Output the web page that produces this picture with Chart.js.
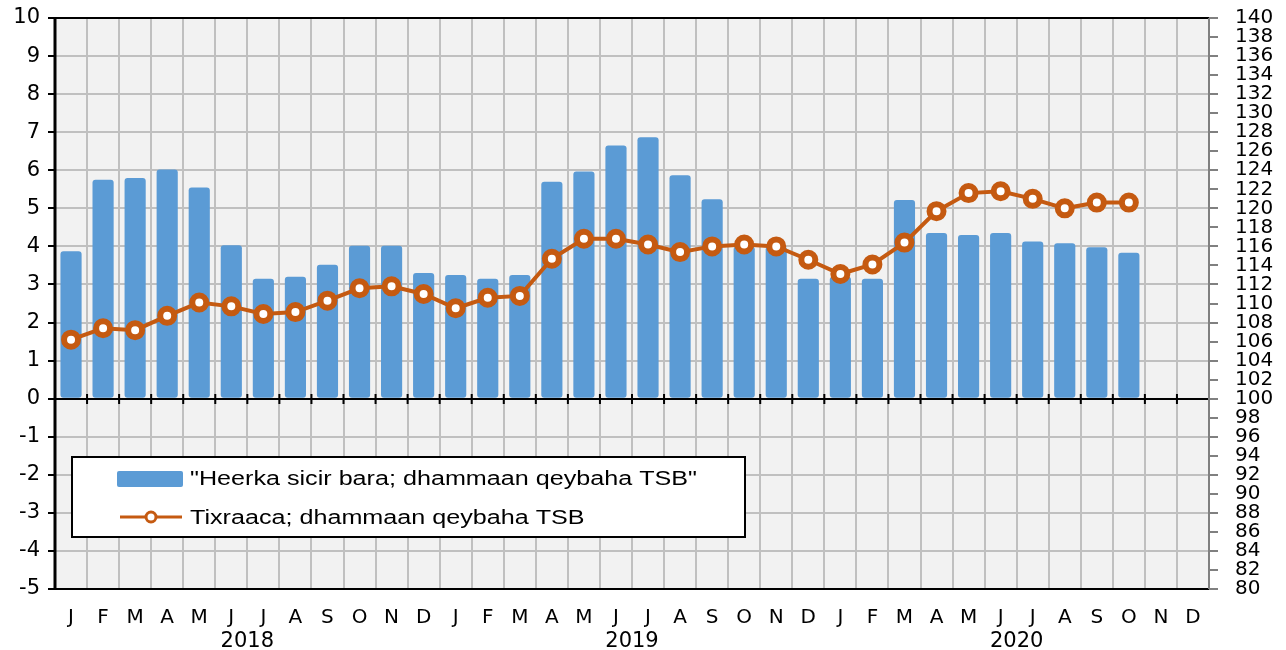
<!DOCTYPE html>
<html>
<head>
<meta charset="utf-8">
<script src="https://cdn.jsdelivr.net/npm/chart.js@4"></script>
<style>
  html, body { margin: 0; padding: 0; background: #fff; }
  #wrap { width: 1286px; height: 650px; position: relative; }
</style>
</head>
<body>
<div id="wrap"><canvas id="chart"></canvas></div>
<script>
// month letters, 2018-01 .. 2020-12
const months = ["J","F","M","A","M","J","J","A","S","O","N","D",
                "J","F","M","A","M","J","J","A","S","O","N","D",
                "J","F","M","A","M","J","J","A","S","O","N","D"];
const years = ["2018", "2019", "2020"];

// bars, left axis (%)
const priceRise = [3.87, 5.75, 5.8, 6.02, 5.55, 4.03, 3.15, 3.2, 3.52, 4.02, 4.02, 3.3,
                   3.25, 3.15, 3.25, 5.7, 5.97, 6.65, 6.87, 5.87, 5.24, 4.0, 4.0, 3.15,
                   3.2, 3.15, 5.22, 4.35, 4.3, 4.35, 4.13, 4.08, 3.98, 3.83, null, null];

// line, right axis (index)
const trackIndex = [106.2, 107.4, 107.2, 108.7, 110.1, 109.7, 108.9, 109.1, 110.3, 111.6, 111.8, 111.0,
                    109.5, 110.6, 110.8, 114.7, 116.8, 116.8, 116.2, 115.4, 116.0, 116.2, 116.0, 114.6,
                    113.1, 114.1, 116.4, 119.7, 121.6, 121.8, 121.0, 120.0, 120.6, 120.6, null, null];

const barLabel = "\"Heerka sicir bara; dhammaan qeybaha TSB\"";
const lineLabel = "Tixraaca; dhammaan qeybaha TSB";

const blue = "#5b9bd5";
const orange = "#c55a11";
const gridGray = "#c0c0c0";
const font = "'DejaVu Sans', sans-serif";

// background, borders, zero line, year labels and the boxed legend
const decor = {
  id: "decor",
  beforeDraw(chart) {
    const { ctx, chartArea: a } = chart;
    ctx.save();
    ctx.fillStyle = "#f2f2f2";
    ctx.fillRect(a.left, a.top, a.right - a.left, a.bottom - a.top);
    ctx.restore();
  },
  afterDatasetsDraw(chart) {
    const { ctx, chartArea: a, scales } = chart;
    const x = scales.x, y = scales.y;
    ctx.save();

    // zero line with tick marks at category boundaries
    const y0 = Math.round(y.getPixelForValue(0));
    ctx.strokeStyle = "#000";
    ctx.lineWidth = 2;
    ctx.beginPath();
    ctx.moveTo(a.left, y0);
    ctx.lineTo(a.right, y0);
    for (let i = 1; i <= months.length; i++) {
      const bx = i < months.length
        ? (x.getPixelForValue(i - 1) + x.getPixelForValue(i)) / 2
        : a.right;
      ctx.moveTo(bx, y0 - 5);
      ctx.lineTo(bx, y0 + 5);
    }
    ctx.stroke();

    // frame
    ctx.beginPath();
    ctx.lineWidth = 2;
    ctx.moveTo(a.left, a.top);
    ctx.lineTo(a.right, a.top);
    ctx.moveTo(a.left, a.bottom);
    ctx.lineTo(a.right, a.bottom);
    ctx.stroke();
    ctx.beginPath();
    ctx.lineWidth = 3;
    ctx.moveTo(a.left, a.top - 1);
    ctx.lineTo(a.left, a.bottom + 1);
    ctx.stroke();
    ctx.beginPath();
    ctx.strokeStyle = "#808080";
    ctx.lineWidth = 2;
    ctx.moveTo(a.right, a.top);
    ctx.lineTo(a.right, a.bottom);
    ctx.stroke();

    // year labels, centred on the Jun/Jul boundary
    ctx.fillStyle = "#000";
    ctx.font = "21px " + font;
    ctx.textAlign = "center";
    ctx.textBaseline = "alphabetic";
    years.forEach((yr, k) => {
      const i = k * 12 + 5;
      const cx = (x.getPixelForValue(i) + x.getPixelForValue(i + 1)) / 2;
      ctx.fillText(yr, cx, 647);
    });

    // legend box
    const bars = chart.data.datasets.find((d) => d.type === "bar");
    const line = chart.data.datasets.find((d) => d.type === "line");
    ctx.fillStyle = "#fff";
    ctx.fillRect(72, 457, 673, 80);
    ctx.strokeStyle = "#000";
    ctx.lineWidth = 2;
    ctx.strokeRect(72, 457, 673, 80);

    ctx.fillStyle = blue;
    ctx.beginPath();
    ctx.roundRect(117, 471, 66, 16, 2);
    ctx.fill();

    ctx.strokeStyle = orange;
    ctx.lineWidth = 3;
    ctx.beginPath();
    ctx.moveTo(120, 517);
    ctx.lineTo(182, 517);
    ctx.stroke();
    ctx.beginPath();
    ctx.fillStyle = "#fff";
    ctx.lineWidth = 3;
    ctx.arc(151, 517, 5, 0, Math.PI * 2);
    ctx.fill();
    ctx.stroke();

    // legend text in the source's wide Arial look
    ctx.fillStyle = "#000";
    ctx.font = "20px 'Liberation Sans', Arial, sans-serif";
    ctx.textAlign = "left";
    ctx.textBaseline = "middle";
    const sx = 507 / ctx.measureText(bars.label).width;
    ctx.translate(190, 0);
    ctx.scale(sx, 1);
    ctx.fillText(bars.label, 0, 479);
    ctx.fillText(line.label, 0, 518);

    ctx.restore();
  }
};

// keep the plot area fixed: no extra room for half-height end labels
function fixWidth(w) {
  return (s) => {
    s.width = w;
    s.paddingTop = 0;
    s.paddingBottom = 0;
  };
}

new Chart(document.getElementById("chart"), {
  data: {
    labels: months,
    datasets: [
      {
        type: "line",
        label: lineLabel,
        data: trackIndex,
        yAxisID: "y1",
        borderColor: orange,
        borderWidth: 4,
        pointRadius: 7,
        pointBorderWidth: 6,
        pointBackgroundColor: "#fff",
        pointBorderColor: orange,
        tension: 0,
        order: 0
      },
      {
        type: "bar",
        label: barLabel,
        data: priceRise,
        yAxisID: "y",
        backgroundColor: blue,
        borderRadius: 3,
        borderSkipped: false,
        categoryPercentage: 1,
        barPercentage: 0.66,
        order: 1
      }
    ]
  },
  options: {
    responsive: true,
    maintainAspectRatio: false,
    animation: false,
    layout: { padding: { top: 18, left: 0, right: 0, bottom: 0 } },
    plugins: {
      legend: { display: false },
      tooltip: { enabled: false }
    },
    scales: {
      x: {
        type: "category",
        offset: true,
        afterFit: (s) => { s.height = 61; s.paddingLeft = 0; s.paddingRight = 0; },
        grid: { offset: true, color: gridGray, lineWidth: 2, drawTicks: false },
        border: { display: false },
        ticks: {
          color: "#000",
          font: { family: font, size: 20 },
          padding: 17,
          maxRotation: 0,
          autoSkip: false
        }
      },
      y: {
        position: "left",
        min: -5,
        max: 10,
        afterFit: fixWidth(55),
        grid: { color: gridGray, lineWidth: 2, tickColor: "#000", tickLength: 7 },
        border: { display: false },
        ticks: {
          stepSize: 1,
          color: "#000",
          font: { family: font, size: 21 },
          padding: 8
        }
      },
      y1: {
        position: "right",
        min: 80,
        max: 140,
        afterFit: fixWidth(77),
        grid: { drawOnChartArea: false, tickColor: "#808080", tickLength: 9, lineWidth: 2 },
        border: { display: false },
        ticks: {
          stepSize: 2,
          autoSkip: false,
          color: "#000",
          font: { family: font, size: 20 },
          padding: 17
        }
      }
    }
  },
  plugins: [decor]
});
</script>
</body>
</html>
